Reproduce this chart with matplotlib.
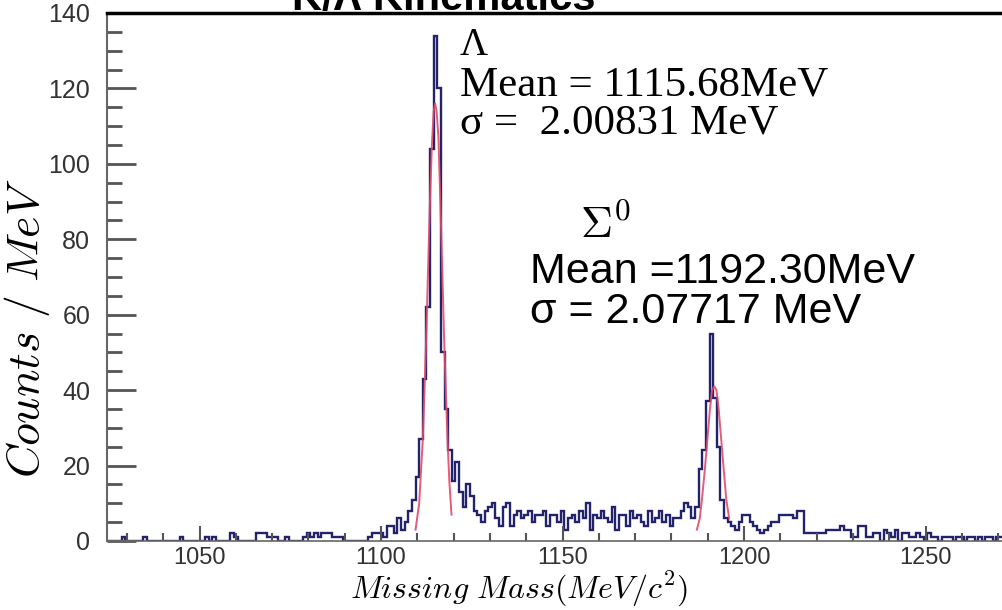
import numpy as np
import matplotlib
matplotlib.use("Agg")
import matplotlib.pyplot as plt
from matplotlib.ticker import MultipleLocator

plt.rcParams['mathtext.fontset'] = 'cm'

# histogram: 1 MeV bins centred on integer masses, 1025 ... 1271 MeV
bin_start = 1025
counts = [
    0, 0, 0, 0, 1, 0, 0, 0, 0, 0, 1, 0, 0, 0, 0, 0, 0, 0, 0, 0, 1, 0, 0, 0, 0,   # 1025-1049
    0, 0, 1, 0, 1, 0, 0, 0, 0, 2,          # 1050-1059
    1, 0, 0, 0, 0, 0, 2, 2, 2, 1,          # 1060-1069
    1, 1, 0, 0, 1, 0, 0, 0, 0, 1,          # 1070-1079
    2, 1, 2, 1, 2, 2, 2, 1, 1, 1,          # 1080-1089
    0, 0, 0, 0, 0, 0, 0, 1, 2, 2,          # 1090-1099
    2, 1, 4, 4, 2, 6, 3, 5, 8, 11,         # 1100-1109
    17, 27, 43, 62, 104, 134, 120, 50, 35, 24,   # 1110-1119
    16, 21, 13, 9, 15, 12, 8, 7, 5, 8,     # 1120-1129
    9, 10, 6, 4, 9, 10, 4, 7, 8, 6,        # 1130-1139
    7, 8, 5, 7, 7, 8, 4, 7, 7, 5,          # 1140-1149
    8, 3, 6, 7, 5, 8, 6, 10, 3, 7,         # 1150-1159
    6, 8, 6, 5, 9, 3, 7, 7, 4, 8,          # 1160-1169
    6, 7, 5, 4, 8, 5, 6, 8, 5, 7,          # 1170-1179
    4, 6, 6, 8, 10, 9, 6, 9, 19, 24,       # 1180-1189
    37, 55, 38, 25, 11, 6, 5, 4, 3, 5,     # 1190-1199
    7, 7, 5, 4, 3, 2, 3, 4, 5, 5,          # 1200-1209
    7, 7, 7, 7, 6, 8, 8, 2, 2, 2,          # 1210-1219
    2, 2, 2, 3, 3, 3, 3, 4, 3, 3,          # 1220-1229
    1, 1, 4, 4, 1, 1, 2, 2, 0, 3,          # 1230-1239
    2, 1, 3, 0, 2, 2, 1, 1, 2, 1,          # 1240-1249
    0, 2, 1, 1, 0, 1, 1, 1, 0, 1,          # 1250-1259
    1, 0, 1, 1, 0, 1, 0, 1, 1, 0,          # 1260-1269
    1, 1,                                  # 1270-1271
]

# fitted curves as drawn
lam_fit_x = [1109.5, 1110.5, 1111.5, 1112.0, 1112.5, 1113.0, 1113.5, 1114.0, 1114.5, 1114.9,
             1115.3, 1115.8, 1116.3, 1116.8, 1117.3, 1117.8, 1118.3, 1118.8, 1119.4]
lam_fit_y = [3, 10, 27, 41, 56, 74, 91, 105, 114, 116, 114, 107, 91, 74, 56, 41, 27, 16, 7]
sig_fit_x = [1187.0, 1187.8, 1188.5, 1189.2, 1189.9, 1190.6, 1191.2, 1191.8, 1192.4, 1193.0,
             1193.7, 1194.4, 1195.1, 1195.9]
sig_fit_y = [3, 6, 12, 19, 27, 35, 40, 41, 40, 35, 27, 19, 11, 6]

W, H = 1002, 610
fig = plt.figure(figsize=(W / 100, H / 100), dpi=100)
ax = fig.add_axes([107 / W, 69 / H, 898 / W, 528 / H])

edges = np.arange(bin_start - 0.5, bin_start + len(counts), 1.0)
ax.stairs(counts, edges, color='#23236b', lw=1.7)
ax.plot(lam_fit_x, lam_fit_y, color='#e04a6a', lw=1.4, alpha=0.9)
ax.plot(sig_fit_x, sig_fit_y, color='#e04a6a', lw=1.4, alpha=0.9)

ax.set_xlim(1024.5, 1024.5 + 898 / 3.63)
ax.set_ylim(0, 140)
ax.xaxis.set_major_locator(MultipleLocator(50))
ax.xaxis.set_minor_locator(MultipleLocator(10))
ax.yaxis.set_major_locator(MultipleLocator(20))
ax.yaxis.set_minor_locator(MultipleLocator(5))

ax.tick_params(axis='y', which='major', direction='in', length=21, width=2,
               color='#555555', labelsize=18, labelcolor='#333333', pad=12)
ax.tick_params(axis='y', which='minor', direction='in', length=11, width=2, color='#555555')
ax.tick_params(axis='x', which='major', direction='in', length=11, width=1.5,
               color='#555555', labelsize=17, labelcolor='#333333', pad=4)
ax.tick_params(axis='x', which='minor', direction='in', length=6, width=1.5, color='#555555')
for lab in ax.get_xticklabels() + ax.get_yticklabels():
    lab.set_family('Liberation Sans')

ax.spines['right'].set_visible(False)
ax.spines['top'].set_color('black')
ax.spines['top'].set_linewidth(2.5)
ax.spines['left'].set_color('#666666')
ax.spines['left'].set_linewidth(1.5)
ax.spines['bottom'].set_color('#666666')
ax.spines['bottom'].set_linewidth(1.2)


def fx(px):
    return px / W


def fy(py):
    return 1 - py / H


# title, mostly cut off at the top edge as in the source image
fig.text(fx(444), fy(10), 'K/\u039b Kinematics', ha='center', va='baseline',
         fontsize=30, fontweight='bold', family='Liberation Sans')

# Lambda annotation (serif)
fig.text(fx(460), fy(55), '\u039b', fontsize=28, family='Liberation Serif', va='baseline')
fig.text(fx(460), fy(95), 'Mean = 1115.68MeV', fontsize=31, family='Liberation Serif', va='baseline')
fig.text(fx(460), fy(134), '\u03c3 =  2.00831 MeV', fontsize=31, family='Liberation Serif', va='baseline')

# Sigma0 annotation (sans)
fig.text(fx(580), fy(238), r'$\Sigma^0$', fontsize=32, va='baseline')
fig.text(fx(530), fy(283), 'Mean =1192.30MeV', fontsize=31, family='Liberation Sans', va='baseline')
fig.text(fx(530), fy(323), '\u03c3 = 2.07717 MeV', fontsize=31, family='Liberation Sans', va='baseline')

# axis titles
fig.text(fx(27), fy(328), r'$Counts\ /\ MeV$', rotation=90, ha='center', va='center', fontsize=33)
fig.text(fx(519), fy(598), r'$Missing\ Mass(MeV/c^2)$', ha='center', va='baseline', fontsize=23)

fig.savefig('out.png', dpi=100)
